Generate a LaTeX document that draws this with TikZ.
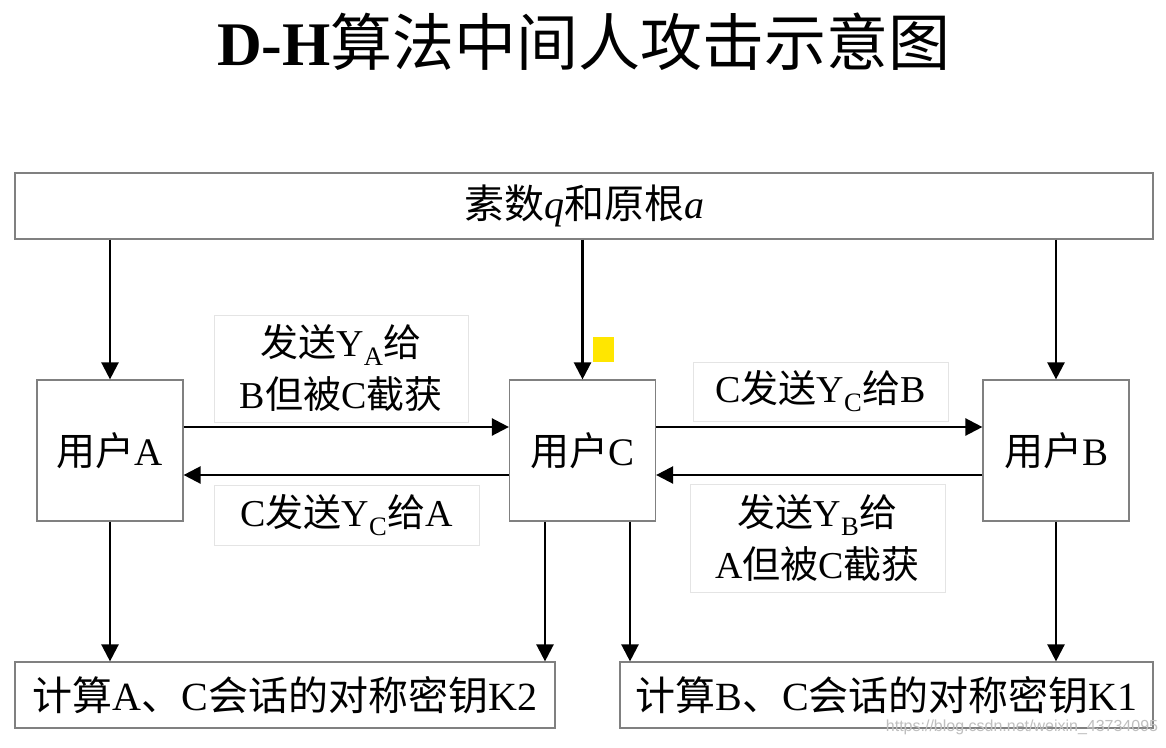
\documentclass[tikz,border=0pt]{standalone}
\usepackage{fontspec}
\setmainfont{Liberation Serif}
\newfontfamily\cjk{Noto Sans CJK SC}
\newfontfamily\wmfont{Liberation Sans}
\usetikzlibrary{arrows.meta}
\tikzset{>={Triangle[width=17pt,length=17pt]}}
\definecolor{framegray}{HTML}{808080}
\definecolor{labelgray}{HTML}{E4E4E4}
\definecolor{markyellow}{HTML}{FFE600}
\newcommand\zh[1]{{\cjk #1}}
\tikzset{
  box/.style={draw=framegray, line width=1.2pt, inner sep=0pt, font=\fontsize{40}{46}\selectfont},
  userbox/.style={box, minimum width=146pt, minimum height=141pt, font=\fontsize{39}{46}\selectfont},
  keybox/.style={box, minimum height=66pt},
  msgbox/.style={draw=labelgray, line width=1pt, inner sep=0pt, align=center,
    minimum width=255pt, font=\fontsize{38}{52}\selectfont},
  flow/.style={->, line width=2.4pt},
}

\begin{document}
\begin{tikzpicture}[x=1pt, y=-1pt]
  \useasboundingbox[fill=white] (0,0) rectangle (1166,747);

  % title and the shared parameters
  \node (title) at (584,42) {\fontsize{62}{70}\selectfont\textbf{D-H}\zh{算法中间人攻击示意图}};
  \node[box, minimum width=1138pt, minimum height=66pt] (prime) at (584,206)
    {\zh{素数}\textit{q}\zh{和原根}\textit{a}};

  % the three users
  \node[userbox] (userA) at (110,450.5) {\zh{用户}A};
  \node[userbox] (userC) at (582.5,450.5) {\zh{用户}C};
  \node[userbox] (userB) at (1056,450.5) {\zh{用户}B};

  % the two keys
  \node[keybox, minimum width=540pt] (keyAC) at (285,695) {\zh{计算}A\zh{、}C\zh{会话的对称密钥}K2};
  \node[keybox, minimum width=533pt] (keyBC) at (886.5,695) {\zh{计算}B\zh{、}C\zh{会话的对称密钥}K1};

  % message labels
  \node[msgbox, minimum width=254pt, minimum height=107pt] (msgYA) at (341,368.5)
    {\zh{发送}Y\textsubscript{A}\zh{给}\\B\zh{但被}C\zh{截获}};
  \node[msgbox, minimum width=265pt, minimum height=60pt] (msgCA) at (346.5,515)
    {C\zh{发送}Y\textsubscript{C}\zh{给}A};
  \node[msgbox, minimum height=59pt] (msgCB) at (820.5,391.5)
    {C\zh{发送}Y\textsubscript{C}\zh{给}B};
  \node[msgbox, minimum height=108pt] (msgYB) at (817.5,538)
    {\zh{发送}Y\textsubscript{B}\zh{给}\\A\zh{但被}C\zh{截获}};

  \node[fill=markyellow, inner sep=0pt, minimum width=21pt, minimum height=25pt] (mark) at (603.5,349.5) {};

  % q and a go to every user
  \draw[flow] (prime.south -| userA.north) -- (userA.north);
  \draw[flow] (prime.south -| userC.north) -- (userC.north);
  \draw[flow] (prime.south -| userB.north) -- (userB.north);

  % exchange of the public values
  \draw[flow] ([yshift=23.5pt]userA.east) -- ([yshift=23.5pt]userC.west);
  \draw[flow] ([yshift=-24.5pt]userC.west) -- ([yshift=-24.5pt]userA.east);
  \draw[flow] ([yshift=23.5pt]userC.east) -- ([yshift=23.5pt]userB.west);
  \draw[flow] ([yshift=-24.5pt]userB.west) -- ([yshift=-24.5pt]userC.east);

  % key computation
  \draw[flow] (userA.south) -- (userA.south |- keyAC.north);
  \draw[flow] ([xshift=-37.5pt]userC.south) coordinate (cl) -- (cl |- keyAC.north);
  \draw[flow] ([xshift=47.5pt]userC.south) coordinate (cr) -- (cr |- keyBC.north);
  \draw[flow] (userB.south) -- (userB.south |- keyBC.north);

  \node[text=black!25, font=\wmfont\fontsize{16}{18}\selectfont] (watermark) at (1022,727)
    {https://blog.csdn.net/weixin\_43734095};
\end{tikzpicture}
\end{document}
